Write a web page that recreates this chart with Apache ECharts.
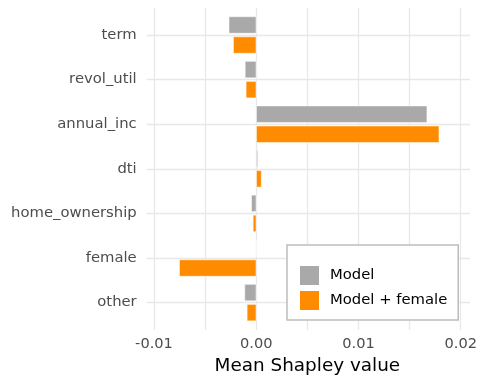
<!DOCTYPE html>
<html>
<head>
<meta charset="utf-8">
<script src="https://cdn.jsdelivr.net/npm/echarts@6/dist/echarts.min.js"></script>
<style>html,body{margin:0;padding:0;background:#fff}#c{width:480px;height:384px}</style>
</head>
<body>
<div id="c"></div>
<script>
const categories = ['term', 'revol_util', 'annual_inc', 'dti', 'home_ownership', 'female', 'other'];
const modelValues = [-0.00269, -0.00111, 0.01672, 0.00016, -0.00049, 0, -0.00115];
const femaleValues = [-0.00226, -0.00102, 0.01790, 0.00052, -0.00033, -0.00754, -0.00092];
const xTicks = [-0.01, 0, 0.01, 0.02];
const seriesNames = ['Model', 'Model + female'];

const FONT = 'DejaVu Sans';
const chart = echarts.init(document.getElementById('c'), null, {renderer: 'canvas'});
const gridLine = {show: true, lineStyle: {color: '#e8e8e8', width: 1.3}};

chart.setOption({
  animation: false,
  backgroundColor: '#ffffff',
  textStyle: {fontFamily: FONT},
  grid: [
    {left: 154, right: 19.3, top: 8, bottom: 54},
    {left: 146.7, right: 10, top: 12.7, height: 312.2},
    {left: 146.7, right: 10, top: 35, height: 267.6}
  ],
  xAxis: [
    {
      gridIndex: 0, type: 'value', min: xTicks[0], max: xTicks[xTicks.length - 1], interval: 0.005,
      axisLine: {show: false}, axisTick: {show: false},
      splitLine: gridLine,
      axisLabel: {
        color: '#4d4d4d', fontSize: 14.6, fontFamily: FONT, margin: 7,
        formatter: function (v) {
          for (const t of xTicks) { if (Math.abs(v - t) < 1e-9) return t.toFixed(2); }
          return '';
        }
      },
      name: 'Mean Shapley value', nameLocation: 'middle', nameGap: 25,
      nameTextStyle: {color: '#000', fontSize: 18.4, fontFamily: FONT, verticalAlign: 'top'}
    },
    {gridIndex: 1, type: 'value', min: -0.01072, max: 0.02091, show: false, splitLine: {show: false}},
    {gridIndex: 2, type: 'value', min: 0, max: 1, show: false, splitLine: {show: false}}
  ],
  yAxis: [
    {gridIndex: 0, type: 'value', show: false, splitLine: {show: false}, min: 0, max: 1},
    {
      gridIndex: 1, type: 'category', data: categories, inverse: true,
      axisLine: {show: false}, axisTick: {show: false}, splitLine: {show: false},
      axisLabel: {color: '#4d4d4d', fontSize: 14.8, fontFamily: FONT, margin: 10}
    },
    {
      gridIndex: 2, type: 'value', min: 0, max: 6, interval: 1,
      axisLine: {show: false}, axisTick: {show: false}, axisLabel: {show: false},
      splitLine: gridLine
    }
  ],
  legend: {
    orient: 'vertical', left: 287, top: 245,
    padding: [19, 11, 8, 11],
    itemWidth: 21, itemHeight: 21, itemGap: 2,
    borderColor: '#bdbdbd', borderWidth: 1.5, backgroundColor: '#ffffff',
    textStyle: {fontSize: 14.8, fontFamily: FONT, color: '#000', padding: [0, 0, 0, 5]},
    data: [{name: seriesNames[0], icon: 'rect'}, {name: seriesNames[1], icon: 'rect'}]
  },
  series: [
    {
      name: seriesNames[0], type: 'bar', xAxisIndex: 1, yAxisIndex: 1,
      data: modelValues, barWidth: 17, barGap: '18%',
      itemStyle: {color: '#a9a9a9', borderColor: '#ffffff', borderWidth: 0.5}
    },
    {
      name: seriesNames[1], type: 'bar', xAxisIndex: 1, yAxisIndex: 1,
      data: femaleValues, barWidth: 17, barGap: '18%',
      itemStyle: {color: '#ff8c00', borderColor: '#ffffff', borderWidth: 0.5}
    }
  ]
});
</script>
</body>
</html>
